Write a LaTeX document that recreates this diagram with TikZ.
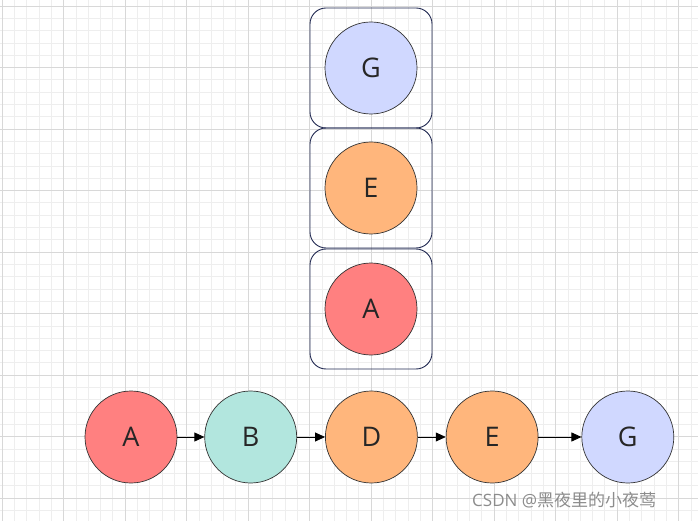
\documentclass[tikz,border=0pt]{standalone}
\usepackage{fontspec}
\setmainfont{Open Sans}
\newfontfamily\cjkfont{Noto Sans CJK SC}
\usepackage{tikz}
\usetikzlibrary{arrows.meta,positioning}
\definecolor{gridminor}{RGB}{238,238,238}
\definecolor{gridmajor}{RGB}{216,216,216}
\definecolor{slotblue}{RGB}{36,44,84}
\definecolor{fillred}{RGB}{255,128,128}
\definecolor{fillteal}{RGB}{178,230,222}
\definecolor{fillorange}{RGB}{255,182,124}
\definecolor{fillblue}{RGB}{208,216,255}

\begin{document}
\begin{tikzpicture}[x=1pt,y=-1pt,
		vertex/.style={circle,draw=black!80,line width=0.7pt,minimum size=92pt,inner sep=0pt,
			font=\fontsize{27}{27}\selectfont,text=black!85},
		slot/.style={draw=slotblue,line width=0.9pt,rounded corners=16pt,minimum width=122pt,
			minimum height=120pt,inner sep=0pt},
		link/.style={-{Triangle[length=10pt,width=9pt]},black,line width=0.8pt}]
	\useasboundingbox (0,0) rectangle (698,521);
	\fill[white] (0,0) rectangle (698,521);
	
	% Background grid, minor and major lines.
	\foreach \k in {0,...,56}{
		\draw[gridminor,line width=0.6pt] ({2+12.3*\k},0)--({2+12.3*\k},521);
	}
	\foreach \k in {0,...,42}{
		\draw[gridminor,line width=0.6pt] (0,{6+12.3*\k})--(698,{6+12.3*\k});
	}
	\foreach \k in {0,...,11}{
		\draw[gridmajor,line width=0.8pt] ({2+61.5*\k},0)--({2+61.5*\k},521);
	}
	\foreach \k in {0,...,8}{
		\draw[gridmajor,line width=0.8pt] (0,{6+61.5*\k})--(698,{6+61.5*\k});
	}
	
	% Stack of three slots, top to bottom.
	\node[slot] (slotg) at (371,68) {};
	\node[slot] (slote) at (371,188) {};
	\node[slot] (slota) at (371,309) {};
	\node[vertex,fill=fillblue] (sg) at (slotg.center) {G};
	\node[vertex,fill=fillorange] (se) at (slote.center) {E};
	\node[vertex,fill=fillred] (sa) at (slota.center) {A};
	
	% Visiting order along the bottom row.
	\node[vertex,fill=fillred] (a) at (131,437) {A};
	\node[vertex,fill=fillteal,right=27pt of a] (b) {B};
	\node[vertex,fill=fillorange,right=28pt of b] (d) {D};
	\node[vertex,fill=fillorange,right=28pt of d] (e) {E};
	\node[vertex,fill=fillblue,right=43pt of e] (g) {G};
	\draw[link] (a)--(b);
	\draw[link] (b)--(d);
	\draw[link] (d)--(e);
	\draw[link] (e)--(g);
	
	\node[anchor=west,text=black!45,font=\fontsize{17}{17}\selectfont,inner sep=0pt] (mark) at (472,500)
	{CSDN @\cjkfont 黑夜里的小夜莺};
\end{tikzpicture}
\end{document}
